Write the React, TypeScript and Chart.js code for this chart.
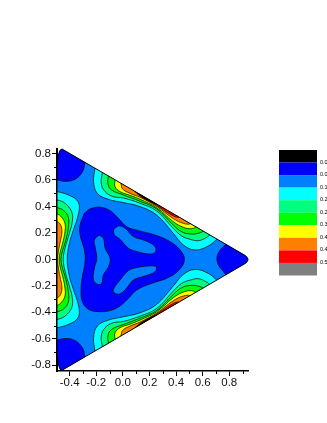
import React, { useEffect, useRef } from "react";
import { Chart, registerables } from "chart.js";

Chart.register(...registerables);

type P = [number, number];

const BLACK = "#000000";
const BLUE = "#0000ff";
const AZURE = "#0080ff";
const CYAN = "#00ffff";
const TEAL = "#00ff80";
const GREEN = "#00ff00";
const YELLOW = "#ffff00";
const ORANGE = "#ff8000";
const RED = "#ff0000";
const GRAY = "#808080";

const legendColors = [BLACK, BLUE, AZURE, CYAN, TEAL, GREEN, YELLOW, ORANGE, RED, GRAY];
const legendLabels = ["0.02", "0.08", "0.15", "0.21", "0.28", "0.34", "0.41", "0.47", "0.54"];

const xMajor = [-0.4, -0.2, 0, 0.2, 0.4, 0.6, 0.8];
const xMinor = [-0.3, -0.1, 0.1, 0.3, 0.5, 0.7, 0.9];
const yMajor = [-0.8, -0.6, -0.4, -0.2, 0, 0.2, 0.4, 0.6, 0.8];
const yMinor = [-0.7, -0.5, -0.3, -0.1, 0.1, 0.3, 0.5, 0.7];

const triangle: P[] = [[-0.495,0.70],[-0.485,0.79],[-0.472,0.825],[-0.457,0.834],[0.905,0.038],[0.925,0.026],[0.938,0.010],[0.941,0],[0.938,-0.012],[0.925,-0.028],[0.905,-0.040],[-0.457,-0.838],[-0.472,-0.83],[-0.485,-0.795],[-0.495,-0.705],[-0.495,0.70]];

const cornerTop: P[] = [[-0.53,0.605],[-0.493,0.600],[-0.435,0.590],[-0.360,0.605],[-0.303,0.663],[-0.285,0.731],[-0.275,0.80],[-0.40,0.95],[-0.55,0.85],[-0.53,0.605]];
const cornerBottom: P[] = [[-0.53,-0.615],[-0.493,-0.610],[-0.435,-0.598],[-0.360,-0.613],[-0.303,-0.670],[-0.285,-0.737],[-0.275,-0.80],[-0.40,-0.95],[-0.55,-0.85],[-0.53,-0.615]];
const cornerRight: P[] = [[0.78,0.118],[0.738,0.079],[0.712,0.033],[0.708,-0.005],[0.723,-0.05],[0.753,-0.088],[0.78,-0.122],[0.82,-0.16],[1.02,0],[0.82,0.16],[0.78,0.118]];

const centre: P[] = [[-0.289,0.348],[-0.321,0.260],[-0.321,0.184],[-0.289,0.071],[-0.284,-0.017],[-0.304,-0.130],[-0.314,-0.231],[-0.304,-0.319],[-0.259,-0.377],[-0.184,-0.395],[-0.096,-0.387],[-0.021,-0.352],[0.042,-0.294],[0.105,-0.231],[0.217,-0.181],[0.330,-0.143],[0.418,-0.085],[0.463,-0.004],[0.430,0.071],[0.355,0.134],[0.242,0.184],[0.117,0.217],[0.029,0.247],[-0.033,0.310],[-0.096,0.368],[-0.171,0.394],[-0.246,0.381],[-0.289,0.348]];
const lobeLeft: P[] = [[-0.179,0.184],[-0.146,0.159],[-0.133,0.084],[-0.096,0.008],[-0.108,-0.055],[-0.146,-0.118],[-0.159,-0.181],[-0.189,-0.188],[-0.221,-0.156],[-0.214,-0.067],[-0.196,0.008],[-0.209,0.096],[-0.214,0.147],[-0.179,0.184]];
const lobeUpper: P[] = [[-0.071,0.222],[-0.033,0.253],[0.017,0.235],[0.080,0.172],[0.167,0.142],[0.242,0.096],[0.242,0.051],[0.192,0.041],[0.105,0.059],[0.042,0.084],[-0.021,0.152],[-0.063,0.184],[-0.071,0.222]];
const lobeLower: P[] = [[-0.076,-0.244],[-0.033,-0.264],[0.017,-0.231],[0.080,-0.156],[0.167,-0.125],[0.242,-0.093],[0.250,-0.055],[0.192,-0.050],[0.105,-0.062],[0.042,-0.085],[-0.021,-0.156],[-0.063,-0.211],[-0.076,-0.244]];

const leftCyan: P[] = [[-0.54,0.52],[-0.493,0.512],[-0.41,0.487],[-0.347,0.449],[-0.327,0.399],[-0.342,0.31],[-0.372,0.222],[-0.402,0.121],[-0.418,0],[-0.402,-0.126],[-0.372,-0.227],[-0.342,-0.315],[-0.327,-0.404],[-0.347,-0.454],[-0.41,-0.492],[-0.493,-0.517],[-0.54,-0.525],[-0.6,0],[-0.54,0.52]];
const leftTeal: P[] = [[-0.54,0.455],[-0.493,0.449],[-0.435,0.424],[-0.385,0.361],[-0.380,0.285],[-0.402,0.197],[-0.435,0.083],[-0.448,0],[-0.435,-0.088],[-0.402,-0.202],[-0.380,-0.290],[-0.385,-0.366],[-0.435,-0.429],[-0.493,-0.454],[-0.54,-0.46],[-0.6,0],[-0.54,0.455]];
const leftGreen: P[] = [[-0.54,0.40],[-0.493,0.391],[-0.443,0.368],[-0.410,0.318],[-0.410,0.235],[-0.428,0.146],[-0.458,0.046],[-0.465,0],[-0.458,-0.051],[-0.428,-0.151],[-0.410,-0.240],[-0.410,-0.323],[-0.443,-0.373],[-0.493,-0.396],[-0.54,-0.405],[-0.6,0],[-0.54,0.40]];
const leftYellow: P[] = [[-0.54,0.35],[-0.493,0.343],[-0.460,0.318],[-0.435,0.272],[-0.435,0.210],[-0.453,0.121],[-0.473,0.046],[-0.478,0],[-0.473,-0.051],[-0.453,-0.126],[-0.435,-0.215],[-0.435,-0.277],[-0.460,-0.323],[-0.493,-0.348],[-0.54,-0.355],[-0.6,0],[-0.54,0.35]];
const leftOrange: P[] = [[-0.54,0.295],[-0.493,0.285],[-0.468,0.260],[-0.458,0.210],[-0.468,0.146],[-0.485,0.058],[-0.490,0],[-0.485,-0.063],[-0.468,-0.151],[-0.458,-0.215],[-0.468,-0.265],[-0.493,-0.290],[-0.54,-0.30],[-0.6,0],[-0.54,0.295]];

const upperCyan: P[] = [[-0.210,0.688],[-0.220,0.587],[-0.192,0.499],[-0.109,0.454],[0.004,0.429],[0.129,0.399],[0.254,0.335],[0.379,0.197],[0.455,0.109],[0.542,0.071],[0.642,0.101],[0.710,0.157],[0.76,0.22],[-0.16,0.78],[-0.210,0.688]];
const upperTeal: P[] = [[-0.154,0.658],[-0.162,0.575],[-0.134,0.512],[-0.072,0.474],[0.004,0.464],[0.129,0.424],[0.254,0.366],[0.379,0.235],[0.442,0.177],[0.505,0.152],[0.567,0.141],[0.617,0.159],[0.655,0.187],[0.70,0.24],[-0.11,0.72],[-0.154,0.658]];
const upperGreen: P[] = [[-0.109,0.630],[-0.112,0.570],[-0.084,0.524],[0.004,0.487],[0.129,0.439],[0.254,0.381],[0.379,0.260],[0.442,0.209],[0.505,0.192],[0.567,0.197],[0.610,0.217],[0.65,0.26],[-0.07,0.69],[-0.109,0.630]];
const upperYellow: P[] = [[-0.059,0.600],[-0.059,0.550],[-0.022,0.512],[0.054,0.484],[0.129,0.454],[0.254,0.391],[0.379,0.285],[0.455,0.242],[0.517,0.232],[0.550,0.247],[0.59,0.29],[-0.02,0.65],[-0.059,0.600]];
const upperOrange: P[] = [[-0.014,0.572],[-0.002,0.532],[0.054,0.499],[0.129,0.469],[0.254,0.401],[0.379,0.308],[0.455,0.272],[0.510,0.270],[0.55,0.31],[0.02,0.62],[-0.014,0.572]];
const upperRed: P[] = [[0.091,0.512],[0.129,0.479],[0.254,0.409],[0.379,0.328],[0.425,0.320],[0.46,0.36],[0.12,0.56],[0.091,0.512]];
const upperBlack: P[] = [[0.11,0.500],[0.15,0.470],[0.22,0.430],[0.26,0.42],[0.18,0.53],[0.11,0.500]];

const lowerCyan: P[] = [[-0.210,-0.693],[-0.220,-0.592],[-0.192,-0.504],[-0.109,-0.459],[0.004,-0.434],[0.129,-0.404],[0.254,-0.340],[0.379,-0.202],[0.455,-0.114],[0.542,-0.076],[0.642,-0.106],[0.710,-0.162],[0.76,-0.225],[-0.16,-0.785],[-0.210,-0.693]];
const lowerTeal: P[] = [[-0.154,-0.663],[-0.162,-0.580],[-0.134,-0.517],[-0.072,-0.479],[0.004,-0.469],[0.129,-0.429],[0.254,-0.371],[0.379,-0.240],[0.442,-0.182],[0.505,-0.157],[0.567,-0.146],[0.617,-0.164],[0.655,-0.192],[0.70,-0.245],[-0.11,-0.725],[-0.154,-0.663]];
const lowerGreen: P[] = [[-0.109,-0.635],[-0.112,-0.575],[-0.084,-0.529],[0.004,-0.492],[0.129,-0.444],[0.254,-0.386],[0.379,-0.265],[0.442,-0.214],[0.505,-0.197],[0.567,-0.202],[0.610,-0.222],[0.65,-0.265],[-0.07,-0.695],[-0.109,-0.635]];
const lowerYellow: P[] = [[-0.059,-0.605],[-0.059,-0.555],[-0.022,-0.517],[0.054,-0.489],[0.129,-0.459],[0.254,-0.396],[0.379,-0.290],[0.455,-0.247],[0.517,-0.237],[0.550,-0.252],[0.59,-0.295],[-0.02,-0.655],[-0.059,-0.605]];
const lowerOrange: P[] = [[-0.014,-0.577],[-0.002,-0.537],[0.054,-0.504],[0.129,-0.474],[0.254,-0.406],[0.379,-0.313],[0.455,-0.277],[0.510,-0.275],[0.55,-0.315],[0.02,-0.625],[-0.014,-0.577]];
const lowerRed: P[] = [[0.091,-0.517],[0.129,-0.484],[0.254,-0.414],[0.379,-0.333],[0.425,-0.325],[0.46,-0.365],[0.12,-0.565],[0.091,-0.517]];
const lowerBlack: P[] = [[0.11,-0.505],[0.15,-0.475],[0.22,-0.435],[0.26,-0.425],[0.18,-0.535],[0.11,-0.505]];

const layers: [string, P[], string][] = [
  ["base", triangle, AZURE],
  ["cornerTop", cornerTop, BLUE],
  ["cornerBottom", cornerBottom, BLUE],
  ["cornerRight", cornerRight, BLUE],
  ["centre", centre, BLUE],
  ["lobeLeft", lobeLeft, AZURE],
  ["lobeUpper", lobeUpper, AZURE],
  ["lobeLower", lobeLower, AZURE],
  ["leftCyan", leftCyan, CYAN],
  ["leftTeal", leftTeal, TEAL],
  ["leftGreen", leftGreen, GREEN],
  ["leftYellow", leftYellow, YELLOW],
  ["leftOrange", leftOrange, ORANGE],
  ["upperCyan", upperCyan, CYAN],
  ["upperTeal", upperTeal, TEAL],
  ["upperGreen", upperGreen, GREEN],
  ["upperYellow", upperYellow, YELLOW],
  ["upperOrange", upperOrange, ORANGE],
  ["upperRed", upperRed, RED],
  ["upperBlack", upperBlack, BLACK],
  ["lowerCyan", lowerCyan, CYAN],
  ["lowerTeal", lowerTeal, TEAL],
  ["lowerGreen", lowerGreen, GREEN],
  ["lowerYellow", lowerYellow, YELLOW],
  ["lowerOrange", lowerOrange, ORANGE],
  ["lowerRed", lowerRed, RED],
  ["lowerBlack", lowerBlack, BLACK],
];

const tracePath = (chart: any) => {
  const { ctx, scales } = chart;
  ctx.beginPath();
  triangle.forEach(([x, y], i) => {
    const px = scales.x.getPixelForValue(x);
    const py = scales.y.getPixelForValue(y);
    if (i === 0) ctx.moveTo(px, py);
    else ctx.lineTo(px, py);
  });
  ctx.closePath();
};

const trianglePlugin = {
  id: "triangleClip",
  beforeDatasetsDraw(chart: any) {
    chart.ctx.save();
    tracePath(chart);
    chart.ctx.clip();
  },
  afterDatasetsDraw(chart: any) {
    const { ctx } = chart;
    ctx.restore();
    tracePath(chart);
    ctx.strokeStyle = "#000";
    ctx.lineWidth = 1;
    ctx.stroke();
  },
};

const minorTickPlugin = {
  id: "minorTicks",
  afterDraw(chart: any) {
    const { ctx, scales, chartArea } = chart;
    ctx.save();
    ctx.strokeStyle = "#000";
    ctx.lineWidth = 1;
    ctx.beginPath();
    xMinor.forEach((v) => {
      const px = Math.round(scales.x.getPixelForValue(v)) + 0.5;
      ctx.moveTo(px, chartArea.bottom);
      ctx.lineTo(px, chartArea.bottom + 3);
    });
    yMinor.forEach((v) => {
      const py = Math.round(scales.y.getPixelForValue(v)) + 0.5;
      ctx.moveTo(chartArea.left, py);
      ctx.lineTo(chartArea.left - 3, py);
    });
    ctx.stroke();
    ctx.restore();
  },
};

const legendPlugin = {
  id: "colorKey",
  afterDraw(chart: any) {
    const { ctx } = chart;
    const left = 279;
    const top = 150;
    const w = 38;
    const h = 12.55;
    ctx.save();
    legendColors.forEach((c, i) => {
      ctx.fillStyle = c;
      ctx.fillRect(left, top + i * h, w, h);
    });
    ctx.fillStyle = "#000";
    ctx.font = "5.5px 'Liberation Sans'";
    ctx.textBaseline = "middle";
    ctx.textAlign = "left";
    legendLabels.forEach((t, i) => {
      ctx.fillText(t, 320, top + (i + 1) * h - 0.5);
    });
    ctx.restore();
  },
};

const tickFont = { family: "'Liberation Sans'", size: 11.5 };

export default function App() {
  const ref = useRef<HTMLCanvasElement | null>(null);
  useEffect(() => {
    document.body.style.margin = "0";
    const chart = new Chart(ref.current as HTMLCanvasElement, {
      type: "scatter",
      data: {
        datasets: layers.map(([label, pts, color], i) => ({
          label,
          data: pts.map(([x, y]) => ({ x, y })),
          showLine: true,
          fill: "shape",
          backgroundColor: color,
          borderColor: i === 0 ? "transparent" : "#000",
          borderWidth: i === 0 ? 0 : 0.7,
          pointRadius: 0,
          tension: i === 0 ? 0 : 0.4,
          capBezierPoints: false,
          order: layers.length - i,
        })),
      } as any,
      options: {
        animation: false,
        responsive: false,
        devicePixelRatio: 1,
        layout: { padding: { left: 0, top: 149, right: 79, bottom: 0 } },
        plugins: { legend: { display: false }, tooltip: { enabled: false } },
        scales: {
          x: {
            type: "linear",
            min: -0.495,
            max: 0.941,
            afterBuildTicks: (s: any) => {
              s.ticks = xMajor.map((value) => ({ value }));
            },
            afterFit: (s: any) => {
              s.height = 52;
            },
            border: { display: true, color: "#000", width: 1.5 },
            grid: { drawOnChartArea: false, tickColor: "#000", tickLength: 5, tickWidth: 1 },
            ticks: {
              autoSkip: false,
              maxRotation: 0,
              color: "#111",
              font: tickFont,
              padding: 0,
              callback: (v: any) => Number(v).toFixed(1),
            },
          },
          y: {
            type: "linear",
            min: -0.8435,
            max: 0.834,
            afterBuildTicks: (s: any) => {
              s.ticks = yMajor.map((value) => ({ value }));
            },
            afterFit: (s: any) => {
              s.width = 57;
            },
            border: { display: true, color: "#000", width: 2 },
            grid: { drawOnChartArea: false, tickColor: "#000", tickLength: 5, tickWidth: 1 },
            ticks: {
              autoSkip: false,
              color: "#111",
              font: tickFont,
              padding: 1,
              callback: (v: any) => Number(v).toFixed(1),
            },
          },
        },
      } as any,
      plugins: [trianglePlugin, minorTickPlugin, legendPlugin],
    });
    return () => chart.destroy();
  }, []);
  return (
    <div style={{ position: "absolute", left: 0, top: 0, width: 327, height: 423, overflow: "hidden", background: "#fff" }}>
      <canvas ref={ref} width={327} height={423} style={{ display: "block", filter: "blur(0.35px)" }} />
    </div>
  );
}
